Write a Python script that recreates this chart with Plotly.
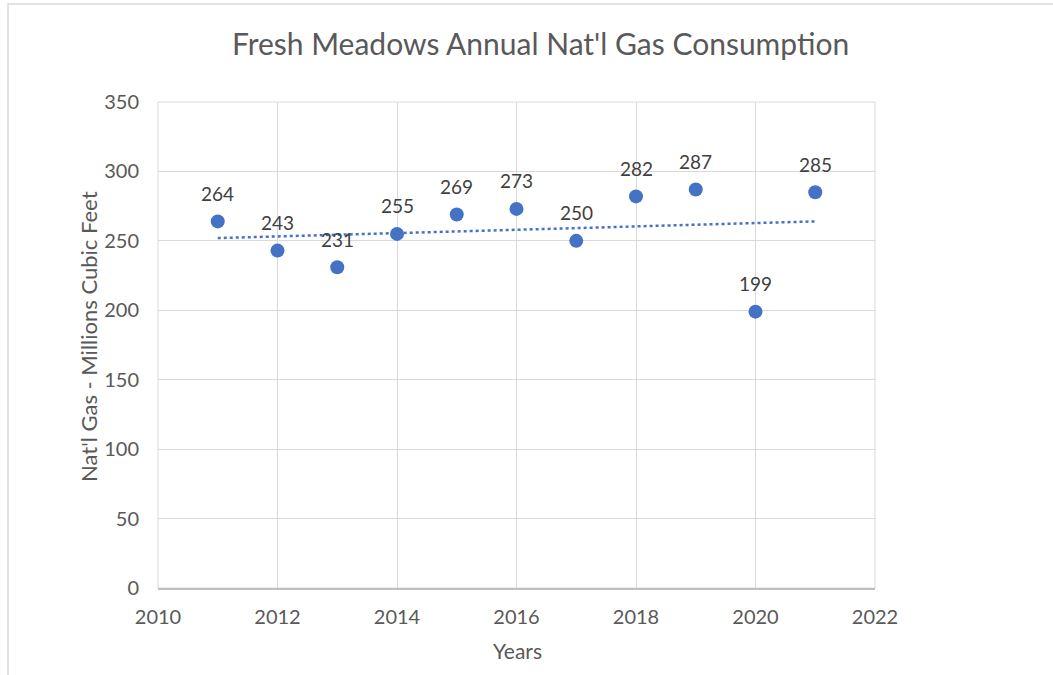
import numpy as np
import plotly.graph_objects as go

years = [2011, 2012, 2013, 2014, 2015, 2016, 2017, 2018, 2019, 2020, 2021]
gas = [264, 243, 231, 255, 269, 273, 250, 282, 287, 199, 285]
title_text = "Fresh Meadows Annual Nat'l Gas Consumption"
x_title = "Years"
y_title = "Nat'l Gas - Millions Cubic Feet"

FONT = "Lato, 'Open Sans', sans-serif"
BLUE = "#4472C4"

slope, intercept = np.polyfit(years, gas, 1)
trend_x = [years[0], years[-1]]
trend_y = [slope * x + intercept for x in trend_x]

fig = go.Figure()
fig.add_trace(go.Scatter(
    x=trend_x, y=trend_y, mode="lines",
    line=dict(color=BLUE, width=2.5, dash="dot"),
    hoverinfo="skip", showlegend=False,
))
fig.add_trace(go.Scatter(
    x=years, y=gas, mode="markers",
    marker=dict(color=BLUE, size=14),
    showlegend=False,
))

W, H = 1053, 675
L, R, T, B = 158, 875, 102, 588
pw, ph = R - L, B - T

def px(xp):
    return (xp - L) / pw

def py(yp):
    return (B - yp) / ph

annotations = [
    dict(text=str(v), x=x, y=v, xref="x", yref="y", showarrow=False,
         xanchor="center", yanchor="middle", yshift=28,
         font=dict(family=FONT, size=19, color="#404040"))
    for x, v in zip(years, gas)
]
annotations += [
    dict(text=title_text, xref="paper", yref="paper",
         x=px(540), y=py(43), showarrow=False,
         xanchor="center", yanchor="middle",
         font=dict(family=FONT, size=30, color="#595959")),
    dict(text=x_title, xref="paper", yref="paper",
         x=px(517), y=py(650), showarrow=False,
         xanchor="center", yanchor="middle",
         font=dict(family=FONT, size=21, color="#595959")),
    dict(text=y_title, xref="paper", yref="paper",
         x=px(88), y=py(337), showarrow=False, textangle=-90,
         xanchor="center", yanchor="middle",
         font=dict(family=FONT, size=22, color="#595959")),
]

fig.update_layout(
    width=W, height=H,
    margin=dict(l=L, r=W - R, t=T, b=H - B),
    paper_bgcolor="white", plot_bgcolor="white",
    font=dict(family=FONT, color="#595959"),
    xaxis=dict(
        range=[2010, 2022], dtick=2, tick0=2010,
        showgrid=True, gridcolor="#d9d9d9", gridwidth=1,
        showline=True, linecolor="#bfbfbf", linewidth=1.5, mirror=False,
        zeroline=False, ticks="", ticklabelstandoff=10,
        tickfont=dict(family=FONT, size=20, color="#595959"),
    ),
    yaxis=dict(
        range=[0, 350], dtick=50, tick0=0,
        showgrid=True, gridcolor="#d9d9d9", gridwidth=1,
        showline=False, zeroline=False, ticks="", ticklabelstandoff=18,
        tickfont=dict(family=FONT, size=20, color="#595959"),
    ),
    shapes=[
        dict(type="rect", xref="paper", yref="paper",
             x0=px(8), x1=px(1070), y0=py(690), y1=py(4),
             line=dict(color="#d9d9d9", width=1.5), layer="below"),
        dict(type="rect", xref="paper", yref="paper",
             x0=0, x1=1, y0=0, y1=1,
             line=dict(color="#d9d9d9", width=1), layer="below"),
    ],
    annotations=annotations,
)

fig.write_html("out.html", config={"displayModeBar": False},
               post_script="document.body.style.margin='0';")
